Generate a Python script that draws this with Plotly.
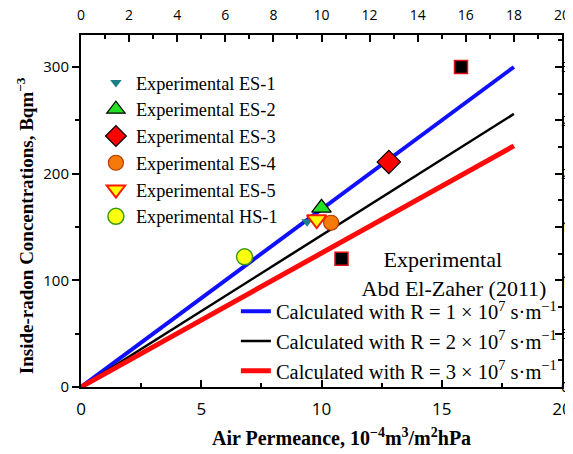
import plotly.graph_objects as go

# ---- data ----
line_x = [0, 18]
line_R1 = [0, 300]
line_R2 = [0, 256]
line_R3 = [0, 226]

es1_x, es1_y = [9.4], [155]
es2_x, es2_y = [10.0], [168]
es3_x, es3_y = [12.8], [211]
es4_x, es4_y = [10.4], [154]
es5_x, es5_y = [9.8], [157]
hs1_x, hs1_y = [6.8], [122]
abd_x, abd_y = [15.8], [300]

bottom_ticks = [0, 5, 10, 15, 20]
top_ticks = [0, 2, 4, 6, 8, 10, 12, 14, 16, 18, 20]
left_ticks = [0, 100, 200, 300]
right_ticks = [0, 50, 100, 150, 200, 250, 300]

x_title = "<b>Air Permeance, 10<sup>−4</sup>m<sup>3</sup>/m<sup>2</sup>hPa</b>"
y_title = "<b>Inside-radon Concentrations, Bqm<sup>−3</sup></b>"

SERIF = "Liberation Serif"
SANS = "Open Sans"

fig = go.Figure()

# calculated lines
line_names = [
    "Calculated with R = 1 × 10<sup>7</sup> s·m<sup>−1</sup>",
    "Calculated with R = 2 × 10<sup>7</sup> s·m<sup>−1</sup>",
    "Calculated with R = 3 × 10<sup>7</sup> s·m<sup>−1</sup>",
]
for ys, col, w, nm in [(line_R1, "#1010ff", 4, line_names[0]),
                       (line_R2, "black", 2.5, line_names[1]),
                       (line_R3, "#ff0a0a", 5, line_names[2])]:
    fig.add_trace(go.Scatter(x=line_x, y=ys, mode="lines", name=nm,
                             line=dict(color=col, width=w), legend="legend3"))

def mk(x, y, name, symbol, color, size, lc, lw, legend="legend"):
    fig.add_trace(go.Scatter(x=x, y=y, mode="markers", name=name, legend=legend,
                             marker=dict(symbol=symbol, color=color, size=size,
                                         line=dict(color=lc, width=lw))))

mk(es1_x, es1_y, "Experimental ES-1", "triangle-down", "#1a7f86", 10, "#1a7f86", 0)
mk(es2_x, es2_y, "Experimental ES-2", "triangle-up", "#22e022", 17, "black", 1.2)
mk(es3_x, es3_y, "Experimental ES-3", "diamond", "#ff0000", 18, "black", 1.2)
mk(es4_x, es4_y, "Experimental ES-4", "circle", "#f57a0a", 15, "#b33c00", 1.2)
mk(es5_x, es5_y, "Experimental ES-5", "triangle-down", "#ffff00", 17, "#ff1a00", 2)
mk(hs1_x, hs1_y, "Experimental HS-1", "circle", "#ffff10", 16, "#3a9a10", 1.5)
mk(abd_x, abd_y, "\u00a0\u00a0\u00a0\u00a0Experimental<br>Abd El-Zaher (2011)",
   "square", "black", 13, "#e01010", 1.5, legend="legend2")

# helper trace for secondary axes
fig.add_trace(go.Scatter(x=[0], y=[0], xaxis="x2", yaxis="y2", mode="markers",
                         marker=dict(opacity=0), showlegend=False, hoverinfo="skip"))

axis_common = dict(showline=True, linecolor="black", linewidth=2, showgrid=False,
                   zeroline=False, tickcolor="black", tickwidth=1.5)

fig.update_layout(
    width=565, height=446,
    margin=dict(l=73, r=11, t=27, b=67),
    paper_bgcolor="white", plot_bgcolor="white",
    showlegend=True,
    xaxis=dict(range=[0, 20], tickvals=bottom_ticks, ticks="inside", ticklen=7,
               minor=dict(dtick=2.5, tick0=0, ticks="inside", ticklen=4, tickcolor="black"),
               tickfont=dict(family=SANS, size=17, color="black"), ticklabelstandoff=6,
               automargin=False, **axis_common),
    xaxis2=dict(range=[0, 20], overlaying="x", side="top", tickvals=top_ticks,
                ticks="inside", ticklen=7,
                minor=dict(dtick=1, tick0=0, ticks="inside", ticklen=4, tickcolor="black"),
                tickfont=dict(family=SANS, size=14, color="black"), ticklabelstandoff=7,
                automargin=False, **axis_common),
    yaxis=dict(range=[0, 330], tickvals=left_ticks, ticks="outside", ticklen=7,
               minor=dict(dtick=50, tick0=0, ticks="outside", ticklen=4, tickcolor="black"),
               tickfont=dict(family=SANS, size=15, color="black"),
               automargin=False, **axis_common),
    yaxis2=dict(range=[0, 330], overlaying="y", side="right", tickvals=right_ticks,
                ticks="inside", ticklen=7,
                minor=dict(dtick=25, tick0=0, ticks="inside", ticklen=4, tickcolor="black"),
                tickfont=dict(family=SANS, size=15, color="black"), ticklabelstandoff=-6,
                automargin=False, **axis_common),
    legend=dict(x=0.031, y=0.9176, xanchor="left", yanchor="top", bgcolor="rgba(0,0,0,0)",
                font=dict(family=SERIF, size=18.3, color="black"), tracegroupgap=0),
    legend2=dict(x=0.50, y=0.4235, xanchor="left", yanchor="top", bgcolor="rgba(0,0,0,0)",
                 valign="top", font=dict(family=SERIF, size=22, color="black")),
    legend3=dict(x=0.322, y=-0.01, xanchor="left", yanchor="bottom", bgcolor="rgba(0,0,0,0)",
                 font=dict(family=SERIF, size=20.5, color="black")),
    annotations=[
        dict(text=x_title, xref="paper", yref="paper", x=0.5426, y=-0.142,
             xanchor="center", yanchor="middle", showarrow=False,
             font=dict(family=SERIF, size=20, color="black")),
        dict(text=y_title, xref="paper", yref="paper", x=-0.1164, y=0.457,
             xanchor="center", yanchor="middle", showarrow=False, textangle=-90,
             font=dict(family=SERIF, size=19, color="black")),
    ],
)

fig.write_html("out.html")
